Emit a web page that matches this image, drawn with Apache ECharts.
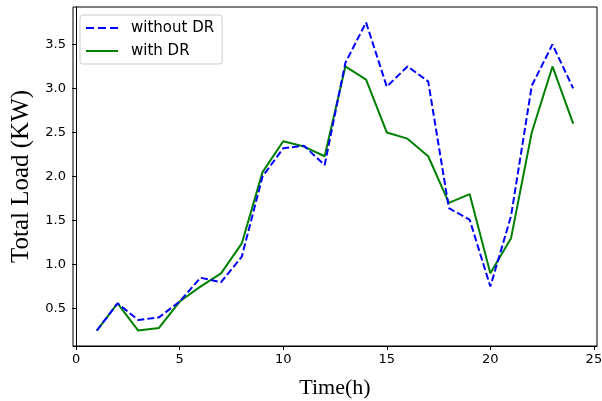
<!DOCTYPE html>
<html>
<head>
<meta charset="utf-8">
<script src="https://cdn.jsdelivr.net/npm/echarts@6/dist/echarts.min.js"></script>
<style>
  html, body { margin: 0; padding: 0; background: #fff; }
  #chart { width: 602px; height: 401px; }
</style>
</head>
<body>
<div id="chart"></div>
<script>
var hours = [1, 2, 3, 4, 5, 6, 7, 8, 9, 10, 11, 12, 13, 14, 15, 16, 17, 18, 19, 20, 21, 22, 23, 24];
var withoutDR = [0.25, 0.56, 0.37, 0.40, 0.58, 0.85, 0.80, 1.09, 2.00, 2.32, 2.35, 2.13, 3.29, 3.75, 3.02, 3.25, 3.08, 1.64, 1.51, 0.75, 1.55, 3.03, 3.50, 3.00];
var withDR = [0.25, 0.56, 0.25, 0.28, 0.58, 0.75, 0.90, 1.24, 2.05, 2.40, 2.34, 2.23, 3.25, 3.10, 2.50, 2.43, 2.23, 1.70, 1.80, 0.90, 1.30, 2.50, 3.25, 2.60];
var xTicks = [0, 5, 10, 15, 20, 25];
var yTicks = [0.5, 1.0, 1.5, 2.0, 2.5, 3.0, 3.5];

var dom = document.getElementById("chart");
var myChart = echarts.init(dom);

function pairs(vals) {
    return hours.map(function (h, i) { return [h, vals[i]]; });
}

var tickFont = { fontFamily: 'DejaVu Sans', fontSize: 13, color: '#000' };

var option = {
    animation: false,
    backgroundColor: '#fff',
    grid: {
        left: 73, right: 5, top: 7, bottom: 55,
        containLabel: false,
        outerBoundsMode: 'none',
        show: true, borderColor: '#000', borderWidth: 1
    },
    legend: {
        orient: 'vertical',
        left: 80, top: 15,
        itemWidth: 32, itemHeight: 2, itemGap: 5,
        padding: [4, 8, 4, 6],
        backgroundColor: '#fff',
        borderColor: '#cccccc', borderWidth: 1, borderRadius: 3,
        textStyle: { fontFamily: 'DejaVu Sans', fontSize: 15, color: '#000', lineHeight: 18, padding: [0, 0, 0, 8] },
        data: [
            { name: 'without DR', icon: 'path://M0,0h8v2h-8zM12,0h8v2h-8zM24,0h8v2h-8z', itemStyle: { color: '#0000ff' } },
            { name: 'with DR', icon: 'rect', itemStyle: { color: '#008000' } }
        ]
    },
    xAxis: {
        type: 'value',
        min: -0.15, max: 25.15,
        name: 'Time(h)',
        nameLocation: 'middle',
        nameGap: 31,
        nameTextStyle: { fontFamily: 'Liberation Serif', fontSize: 22, color: '#000' },
        axisLine: { lineStyle: { color: '#000', width: 1 } },
        axisTick: { show: true, length: 4, customValues: xTicks, lineStyle: { color: '#000' } },
        axisLabel: Object.assign({ customValues: xTicks, margin: 7 }, tickFont),
        splitLine: { show: false }
    },
    yAxis: {
        type: 'value',
        min: 0.075, max: 3.925,
        name: 'Total Load (KW)',
        nameLocation: 'middle',
        nameGap: 39,
        nameTextStyle: { fontFamily: 'Liberation Serif', fontSize: 25, color: '#000' },
        axisLine: { show: true, lineStyle: { color: '#000', width: 1 } },
        axisTick: { show: true, length: 4, customValues: yTicks, lineStyle: { color: '#000' } },
        axisLabel: Object.assign({
            customValues: yTicks, margin: 7,
            formatter: function (v) { return v.toFixed(1); }
        }, tickFont),
        splitLine: { show: false }
    },
    series: [
        {
            name: 'without DR',
            type: 'line',
            data: pairs(withoutDR),
            symbol: 'none',
            color: '#0000ff',
            lineStyle: { color: '#0000ff', width: 2, type: [7, 3] },
            z: 3
        },
        {
            name: 'with DR',
            type: 'line',
            data: pairs(withDR),
            symbol: 'none',
            color: '#008000',
            lineStyle: { color: '#008000', width: 2 },
            z: 2
        }
    ]
};

myChart.setOption(option);
</script>
</body>
</html>
